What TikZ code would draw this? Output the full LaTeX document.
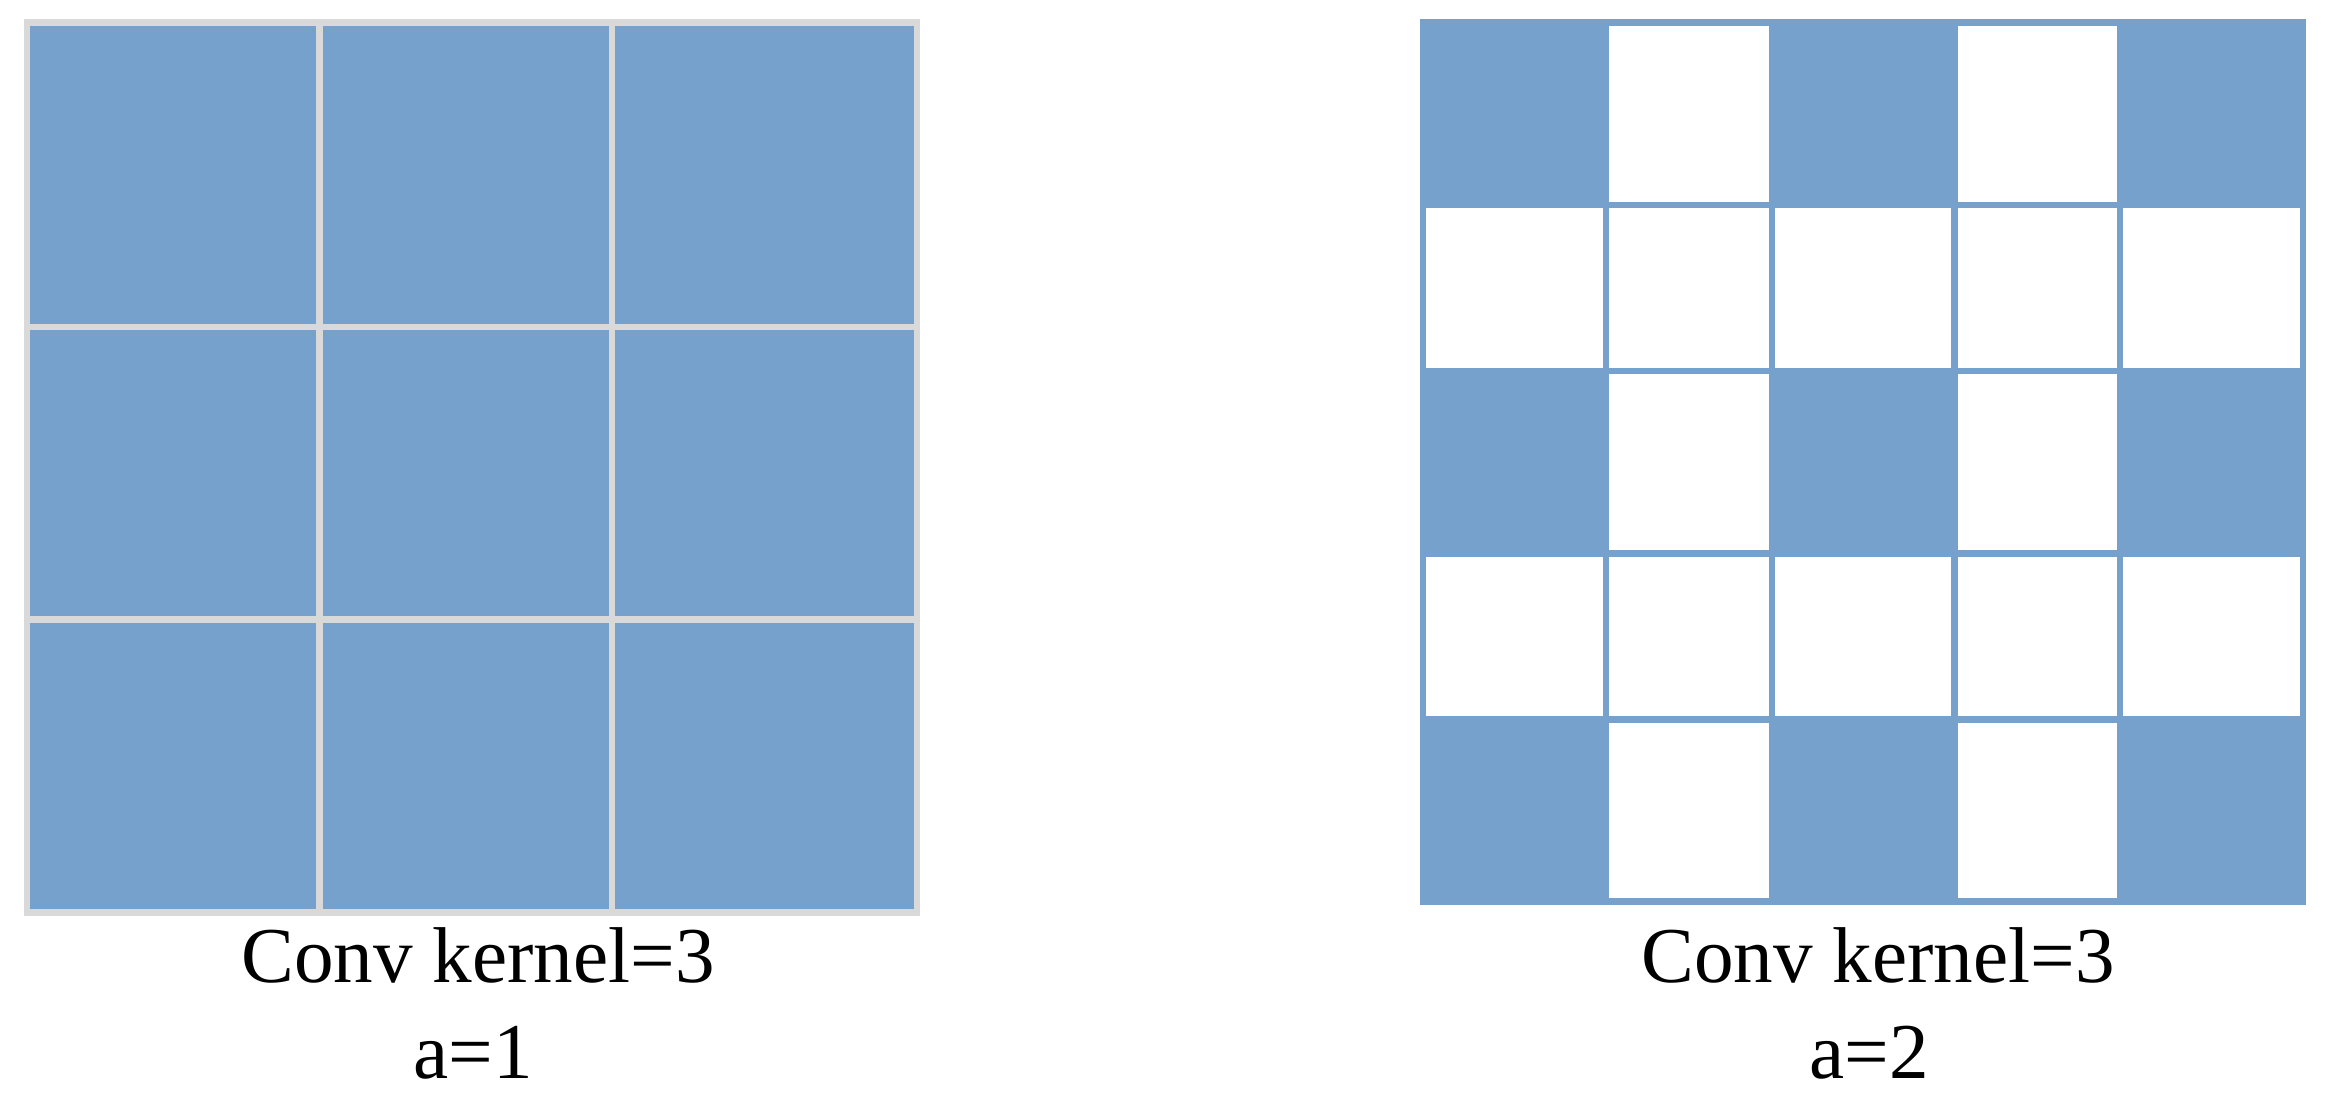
\documentclass[tikz,border=0pt]{standalone}
\usepackage{fontspec}
\setmainfont{Liberation Serif}
\definecolor{cellblue}{RGB}{118,161,205}
\definecolor{gridgray}{RGB}{217,217,217}
\begin{document}
\begin{tikzpicture}[x=0.01cm,y=-0.01cm,
  grayline/.style={draw=gridgray,line width=0.065cm},
  caption/.style={anchor=base,inner sep=0pt,font=\fontsize{22.5pt}{27pt}\selectfont}]
\useasboundingbox (0,0) rectangle (2330,1107);
% left grid (a=1)
\fill[cellblue] (24,19) rectangle (920,916);
\draw[grayline] (27,22.5) rectangle (917,912.5);
\draw[grayline] (319.5,22.5) -- (319.5,912.5);
\draw[grayline] (612,22.5) -- (612,912.5);
\draw[grayline] (27,327) -- (917,327);
\draw[grayline] (27,619.5) -- (917,619.5);
% right grid (a=2)
\fill[cellblue] (1419.75,19.25) rectangle (2306.25,904.75);
\foreach \xa/\xb [count=\i] in {1423/1606,1606/1772,1772/1954.5,1954.5/2120,2120/2303}{
  \foreach \ya/\yb [count=\j] in {22.5/205,205/371,371/553.5,553.5/719.5,719.5/901.5}{
    \pgfmathtruncatemacro{\isblue}{mod(\i,2)*mod(\j,2)}
    \ifnum\isblue=0
      \fill[white] (\xa+3.25,\ya+3.25) rectangle (\xb-3.25,\yb-3.25);
    \fi
  }
}
% captions
\node[caption] (l1) at (478,983) {Conv kernel=3};
\node[caption] (l2) at (473,1078) {a=1};
\node[caption] (r1) at (1878,983) {Conv kernel=3};
\node[caption] (r2) at (1869,1078) {a=2};
\end{tikzpicture}
\end{document}
